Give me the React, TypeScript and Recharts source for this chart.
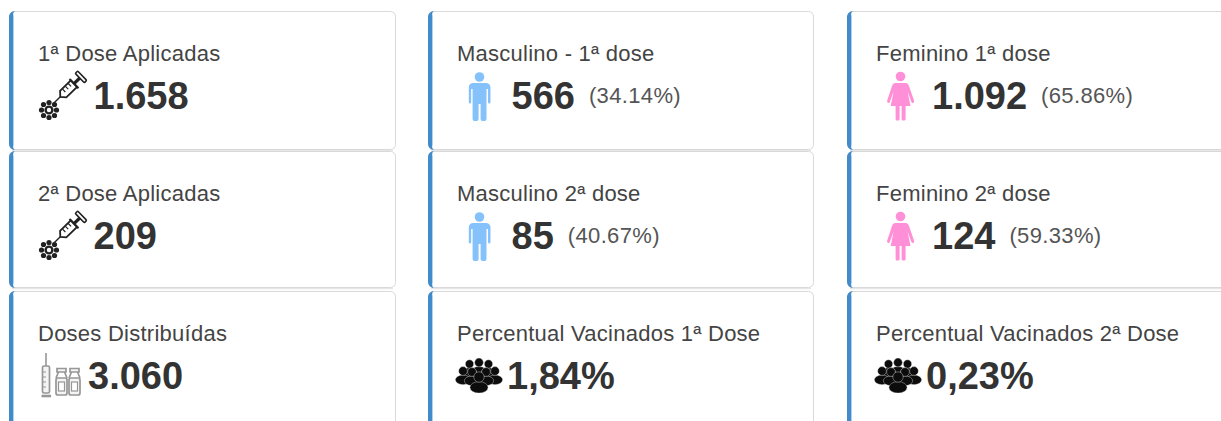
import { ScatterChart, Scatter, XAxis, YAxis } from 'recharts'

const cardTitles = [
  '1ª Dose Aplicadas',
  'Masculino - 1ª dose',
  'Feminino 1ª dose',
  '2ª Dose Aplicadas',
  'Masculino 2ª dose',
  'Feminino 2ª dose',
  'Doses Distribuídas',
  'Percentual Vacinados 1ª Dose',
  'Percentual Vacinados 2ª Dose',
]
const cardValues = ['1.658', '566', '1.092', '209', '85', '124', '3.060', '1,84%', '0,23%']
const cardShares = ['', '(34.14%)', '(65.86%)', '', '(40.67%)', '(59.33%)', '', '', '']
const cardIcons = ['syringe', 'male', 'female', 'syringe', 'male', 'female', 'vials', 'crowd', 'crowd']

const data = cardTitles.map((title, i) => ({
  column: i % 3,
  row: Math.floor(i / 3),
  title,
  value: cardValues[i],
  share: cardShares[i],
  icon: cardIcons[i],
}))

const FONT = '"Liberation Sans", Arial, sans-serif'
const VALUE_X: Record<string, number> = { syringe: 84.5, male: 83.5, female: 85, vials: 79, crowd: 79 }

function SyringeIcon() {
  return (
    <g>
      <g transform="translate(47 90) rotate(-44)" fill="none" stroke="#222" strokeWidth={1.8}>
        <path d="M-4 0 L6 0" strokeWidth={1.4} />
        <path d="M6 0 L10 -4.5 H25 V4.5 H10 Z" fill="#fff" />
        <path d="M13 -4 V0 M17 -4 V0 M21 -4 V0" strokeWidth={1.2} />
        <path d="M25 -6.5 V6.5" strokeWidth={2} />
        <path d="M25 0 H34" strokeWidth={3.4} />
        <rect x={33} y={-6.5} width={3.4} height={13} rx={1} fill="#fff" strokeWidth={1.6} />
      </g>
      <g fill="#222">
        <circle cx={40} cy={99} r={3.4} fill="none" stroke="#222" strokeWidth={2.4} />
        <circle cx={40} cy={91.5} r={2.6} />
        <circle cx={40} cy={106.5} r={2.6} />
        <circle cx={32.5} cy={99} r={2.6} />
        <circle cx={47.5} cy={99} r={2.6} />
        <circle cx={34.5} cy={93.5} r={2.6} />
        <circle cx={45.5} cy={93.5} r={2.6} />
        <circle cx={34.5} cy={104.5} r={2.6} />
        <circle cx={45.5} cy={104.5} r={2.6} />
      </g>
    </g>
  )
}

function MaleIcon() {
  return (
    <g fill="#85c1fb">
      <circle cx={51.5} cy={66} r={4.8} />
      <path d="M45.5 72 H57.5 Q62.5 72 62.5 77 V91 Q62.5 92.5 61.2 92.5 Q60 92.5 60 91 V78 H58.5 V108 Q58.5 110 56.5 110 H54.5 Q52.6 110 52.6 108 V93 H50.6 V108 Q50.6 110 48.8 110 H46.5 Q44.6 110 44.6 108 V78 H43.2 V91 Q43.2 92.5 42 92.5 Q40.8 92.5 40.8 91 V77 Q40.8 72 45.5 72 Z" />
    </g>
  )
}

function FemaleIcon() {
  return (
    <g fill="#ff8fd6">
      <circle cx={53.5} cy={65.5} r={4.8} />
      <path d="M48.5 72 H58.5 Q61 72 62 75 L67 89.5 Q67.5 91.5 66 92 Q64.8 92.4 64.2 90.5 L60.6 80.5 L63.5 95 H58.6 V108 Q58.6 109.5 57.2 109.5 H56 Q54.6 109.5 54.6 108 V95 H52.6 V108 Q52.6 109.5 51.2 109.5 H50 Q48.6 109.5 48.6 108 V95 H43.7 L46.6 80.5 L43 90.5 Q42.4 92.4 41.2 92 Q39.7 91.5 40.2 89.5 L45 75 Q46 72 48.5 72 Z" />
    </g>
  )
}

function VialsIcon() {
  return (
    <g fill="#f4f4f4" stroke="#979797" strokeWidth={1.7}>
      <path d="M37 62 V75" strokeWidth={1.6} />
      <rect x={33.5} y={75} width={7} height={27} rx={1.5} />
      <path d="M33.5 81 H37 M33.5 86 H37 M33.5 91 H37 M33.5 96 H37" strokeWidth={1} />
      <path d="M32.5 105 H42" strokeWidth={2.6} />
      <rect x={47} y={87} width={11} height={17} rx={2} />
      <path d="M48 77.5 H57 V81 H48 Z M49.5 81 L47 87 M55.5 81 L58 87" />
      <rect x={49.5} y={91} width={6} height={9} fill="#fff" strokeWidth={1.2} />
      <rect x={60} y={87} width={11} height={17} rx={2} />
      <path d="M61 77.5 H70 V81 H61 Z M62.5 81 L60 87 M68.5 81 L71 87" />
      <rect x={62.5} y={91} width={6} height={9} fill="#fff" strokeWidth={1.2} />
    </g>
  )
}

// head plus rounded shoulders, one figure of the group
function Figure({ x, y, r }: { x: number; y: number; r: number }) {
  return (
    <g stroke="#fff" strokeWidth={0.35}>
      <ellipse cx={x} cy={y + r * 2} rx={r * 1.75} ry={r * 1.1} />
      <circle cx={x} cy={y} r={r} />
    </g>
  )
}

function CrowdIcon() {
  return (
    <g fill="#0c0c0c">
      <Figure x={51} y={71.5} r={4.4} />
      <Figure x={41.5} y={73} r={4.2} />
      <Figure x={60.5} y={73} r={4.2} />
      <Figure x={35} y={80} r={4.4} />
      <Figure x={67} y={80} r={4.4} />
      <Figure x={44} y={81} r={4.4} />
      <Figure x={58} y={81} r={4.4} />
      <Figure x={51} y={86} r={5.2} />
    </g>
  )
}

const ICONS: Record<string, () => JSX.Element> = {
  syringe: SyringeIcon,
  male: MaleIcon,
  female: FemaleIcon,
  vials: VialsIcon,
  crowd: CrowdIcon,
}

function Card(props: any) {
  const { cx, cy, payload } = props
  const Icon = ICONS[payload.icon]
  const w = payload.column === 0 ? 387 : 386
  const h = payload.row === 1 ? 136 : 138
  const valueBase = payload.row === 2 ? 97.5 : 98
  return (
    <g transform={`translate(${cx} ${cy})`} fontFamily={FONT}>
      <path d={`M3 ${h + 1.5} H${w - 3}`} stroke="#e6e6e6" strokeWidth={1.5} fill="none" />
      <rect x={0.5} y={0.5} width={w - 1} height={h} rx={5} fill="#fff" stroke="#d9d9d9" />
      <path
        d={`M6 0 A6 6 0 0 0 0 6 V${h - 5} A6 6 0 0 0 6 ${h + 1} A3 4 0 0 1 4.4 ${h - 4} V5 A3 4 0 0 1 6 0 Z`}
        fill="#428bca"
      />
      <text x={29} y={49.5} fontSize={22} letterSpacing={0.25} fill="#444">
        {payload.title}
      </text>
      <Icon />
      <text x={VALUE_X[payload.icon]} y={valueBase} fontSize={38} fontWeight={700} fill="#333">
        {payload.value}
        {payload.share ? (
          <tspan dx={14} dy={-6} fontSize={22} letterSpacing={0.35} fontWeight={400} fill="#555">
            {payload.share}
          </tspan>
        ) : null}
      </text>
    </g>
  )
}

export default function App() {
  return (
    <div style={{ position: 'absolute', left: 0, top: 0, width: 1221, height: 421, overflow: 'hidden', background: '#fff' }}>
      <ScatterChart width={1221} height={421} margin={{ top: 11, right: 374, bottom: 130, left: 9 }}>
        <XAxis type="number" dataKey="column" domain={[0, 2]} hide />
        <YAxis type="number" dataKey="row" domain={[0, 2]} reversed hide />
        <Scatter data={data} isAnimationActive={false} shape={Card} />
      </ScatterChart>
    </div>
  )
}
